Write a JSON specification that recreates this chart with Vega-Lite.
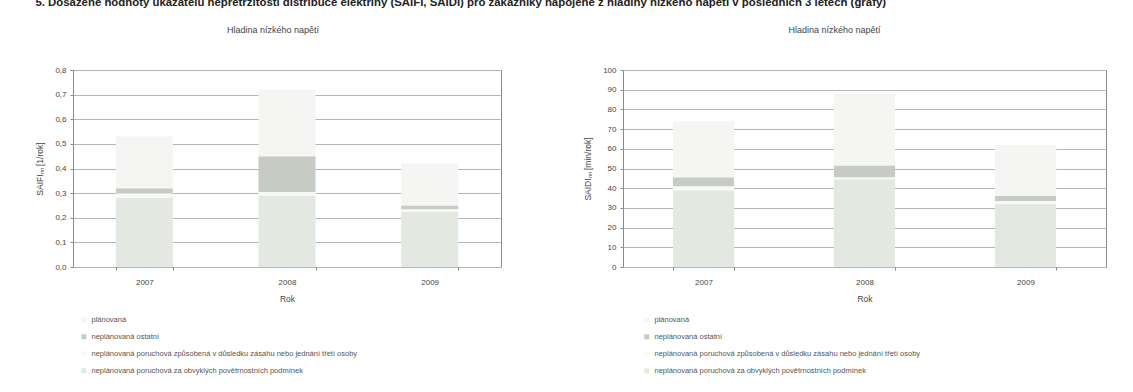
{
  "$schema": "https://vega.github.io/schema/vega-lite/v6.json",
  "background": "white",
  "padding": {"left": 35, "top": -4, "right": 5, "bottom": 0},
  "title": {
    "text": "5. Dosažené hodnoty ukazatelů nepřetržitosti distribuce elektřiny (SAIFI, SAIDI) pro zákazníky napojené z hladiny nízkého napětí v posledních 3 letech (grafy)",
    "anchor": "start",
    "frame": "bounds",
    "fontSize": 11.4,
    "fontWeight": "bold",
    "font": "Liberation Sans",
    "color": "#222",
    "offset": 17.5
  },
  "datasets": {
    "saifi": [
      {"rok": "2007", "vrstva": 1, "kategorie": "neplánovaná poruchová za obvyklých povětrnostních podmínek", "hodnota": 0.28},
      {"rok": "2007", "vrstva": 2, "kategorie": "neplánovaná poruchová způsobená v důsledku zásahu nebo jednání třetí osoby", "hodnota": 0.02},
      {"rok": "2007", "vrstva": 3, "kategorie": "neplánovaná ostatní", "hodnota": 0.02},
      {"rok": "2007", "vrstva": 4, "kategorie": "plánovaná", "hodnota": 0.21},
      {"rok": "2008", "vrstva": 1, "kategorie": "neplánovaná poruchová za obvyklých povětrnostních podmínek", "hodnota": 0.29},
      {"rok": "2008", "vrstva": 2, "kategorie": "neplánovaná poruchová způsobená v důsledku zásahu nebo jednání třetí osoby", "hodnota": 0.015},
      {"rok": "2008", "vrstva": 3, "kategorie": "neplánovaná ostatní", "hodnota": 0.145},
      {"rok": "2008", "vrstva": 4, "kategorie": "plánovaná", "hodnota": 0.27},
      {"rok": "2009", "vrstva": 1, "kategorie": "neplánovaná poruchová za obvyklých povětrnostních podmínek", "hodnota": 0.225},
      {"rok": "2009", "vrstva": 2, "kategorie": "neplánovaná poruchová způsobená v důsledku zásahu nebo jednání třetí osoby", "hodnota": 0.01},
      {"rok": "2009", "vrstva": 3, "kategorie": "neplánovaná ostatní", "hodnota": 0.015},
      {"rok": "2009", "vrstva": 4, "kategorie": "plánovaná", "hodnota": 0.17}
    ],
    "saidi": [
      {"rok": "2007", "vrstva": 1, "kategorie": "neplánovaná poruchová za obvyklých povětrnostních podmínek", "hodnota": 39},
      {"rok": "2007", "vrstva": 2, "kategorie": "neplánovaná poruchová způsobená v důsledku zásahu nebo jednání třetí osoby", "hodnota": 2},
      {"rok": "2007", "vrstva": 3, "kategorie": "neplánovaná ostatní", "hodnota": 4.5},
      {"rok": "2007", "vrstva": 4, "kategorie": "plánovaná", "hodnota": 28.5},
      {"rok": "2008", "vrstva": 1, "kategorie": "neplánovaná poruchová za obvyklých povětrnostních podmínek", "hodnota": 44.5},
      {"rok": "2008", "vrstva": 2, "kategorie": "neplánovaná poruchová způsobená v důsledku zásahu nebo jednání třetí osoby", "hodnota": 1},
      {"rok": "2008", "vrstva": 3, "kategorie": "neplánovaná ostatní", "hodnota": 6},
      {"rok": "2008", "vrstva": 4, "kategorie": "plánovaná", "hodnota": 36.5},
      {"rok": "2009", "vrstva": 1, "kategorie": "neplánovaná poruchová za obvyklých povětrnostních podmínek", "hodnota": 32},
      {"rok": "2009", "vrstva": 2, "kategorie": "neplánovaná poruchová způsobená v důsledku zásahu nebo jednání třetí osoby", "hodnota": 1.5},
      {"rok": "2009", "vrstva": 3, "kategorie": "neplánovaná ostatní", "hodnota": 2.5},
      {"rok": "2009", "vrstva": 4, "kategorie": "plánovaná", "hodnota": 26}
    ]
  },
  "spacing": 81,
  "resolve": {"scale": {"y": "independent", "color": "independent"}, "legend": {"color": "independent"}},
  "hconcat": [
    {
      "width": 428,
      "height": 197,
      "title": {"text": "Hladina nízkého napětí", "offset": 31, "dx": -14},
      "data": {"name": "saifi"},
      "mark": {"type": "bar"},
      "encoding": {
        "x": {
          "field": "rok", "type": "nominal",
          "scale": {"paddingInner": 0.6, "paddingOuter": 0.3},
          "axis": {"title": "Rok", "labelAngle": 0, "tickBand": "extent"}
        },
        "y": {
          "field": "hodnota", "type": "quantitative", "stack": "zero",
          "scale": {"domain": [0, 0.8], "nice": false},
          "axis": {
            "title": "SAIFIₙₙ [1/rok]",
            "values": [0, 0.1, 0.2, 0.3, 0.4, 0.5, 0.6, 0.7, 0.8],
            "labelExpr": "replace(format(datum.value, '.1f'), '.', ',')"
          }
        },
        "order": {"field": "vrstva", "type": "quantitative"},
        "color": {
          "field": "kategorie", "type": "nominal",
          "scale": {
            "domain": [
              "plánovaná",
              "neplánovaná ostatní",
              "neplánovaná poruchová způsobená v důsledku zásahu nebo jednání třetí osoby",
              "neplánovaná poruchová za obvyklých povětrnostních podmínek"
            ],
            "range": ["#f5f6f4", "#c6ccc4", "#f8f9f7", "#e3e8e1"]
          },
          "legend": {
            "title": null,
            "orient": "none",
            "legendX": 7,
            "legendY": 246,
            "values": [
              "plánovaná",
              "neplánovaná ostatní",
              "neplánovaná poruchová způsobená v důsledku zásahu nebo jednání třetí osoby",
              "neplánovaná poruchová za obvyklých povětrnostních podmínek"
            ]
          }
        }
      }
    },
    {
      "width": 483,
      "height": 197,
      "title": {"text": "Hladina nízkého napětí", "offset": 31, "dx": -30},
      "data": {"name": "saidi"},
      "mark": {"type": "bar"},
      "encoding": {
        "x": {
          "field": "rok", "type": "nominal",
          "scale": {"paddingInner": 0.62, "paddingOuter": 0.31},
          "axis": {"title": "Rok", "labelAngle": 0, "tickBand": "extent"}
        },
        "y": {
          "field": "hodnota", "type": "quantitative", "stack": "zero",
          "scale": {"domain": [0, 100], "nice": false},
          "axis": {
            "title": "SAIDIₙₙ [min/rok]",
            "values": [0, 10, 20, 30, 40, 50, 60, 70, 80, 90, 100],
            "format": "d"
          }
        },
        "order": {"field": "vrstva", "type": "quantitative"},
        "color": {
          "field": "kategorie", "type": "nominal",
          "scale": {
            "domain": [
              "plánovaná",
              "neplánovaná ostatní",
              "neplánovaná poruchová způsobená v důsledku zásahu nebo jednání třetí osoby",
              "neplánovaná poruchová za obvyklých povětrnostních podmínek"
            ],
            "range": ["#f5f6f4", "#c6ccc4", "#f8f9f7", "#e3e8e1"]
          },
          "legend": {
            "title": null,
            "orient": "none",
            "legendX": 20,
            "legendY": 246,
            "values": [
              "plánovaná",
              "neplánovaná ostatní",
              "neplánovaná poruchová způsobená v důsledku zásahu nebo jednání třetí osoby",
              "neplánovaná poruchová za obvyklých povětrnostních podmínek"
            ]
          }
        }
      }
    }
  ],
  "config": {
    "font": "Liberation Sans",
    "view": {"stroke": "#8a8a8a", "strokeWidth": 1},
    "title": {"fontSize": 9, "fontWeight": "normal", "color": "#444", "anchor": "middle"},
    "axis": {
      "labelFont": "Liberation Sans",
      "titleFont": "Liberation Sans",
      "labelFontSize": 8,
      "titleFontSize": 8.5,
      "titleFontWeight": "normal",
      "labelColor": "#444",
      "titleColor": "#444",
      "domain": false,
      "tickColor": "#8a8a8a",
      "tickSize": 3,
      "gridColor": "#b5b5b5",
      "gridWidth": 1
    },
    "axisX": {"grid": false, "labelPadding": 8, "titlePadding": 8},
    "axisY": {"grid": true, "labelPadding": 4, "titlePadding": 10},
    "legend": {
      "labelFont": "Liberation Sans",
      "labelFontSize": 7.5,
      "labelColor": "#555",
      "symbolType": "square",
      "symbolSize": 25,
      "symbolStrokeWidth": 0,
      "rowPadding": 8,
      "labelLimit": 400,
      "direction": "vertical"
    }
  }
}
